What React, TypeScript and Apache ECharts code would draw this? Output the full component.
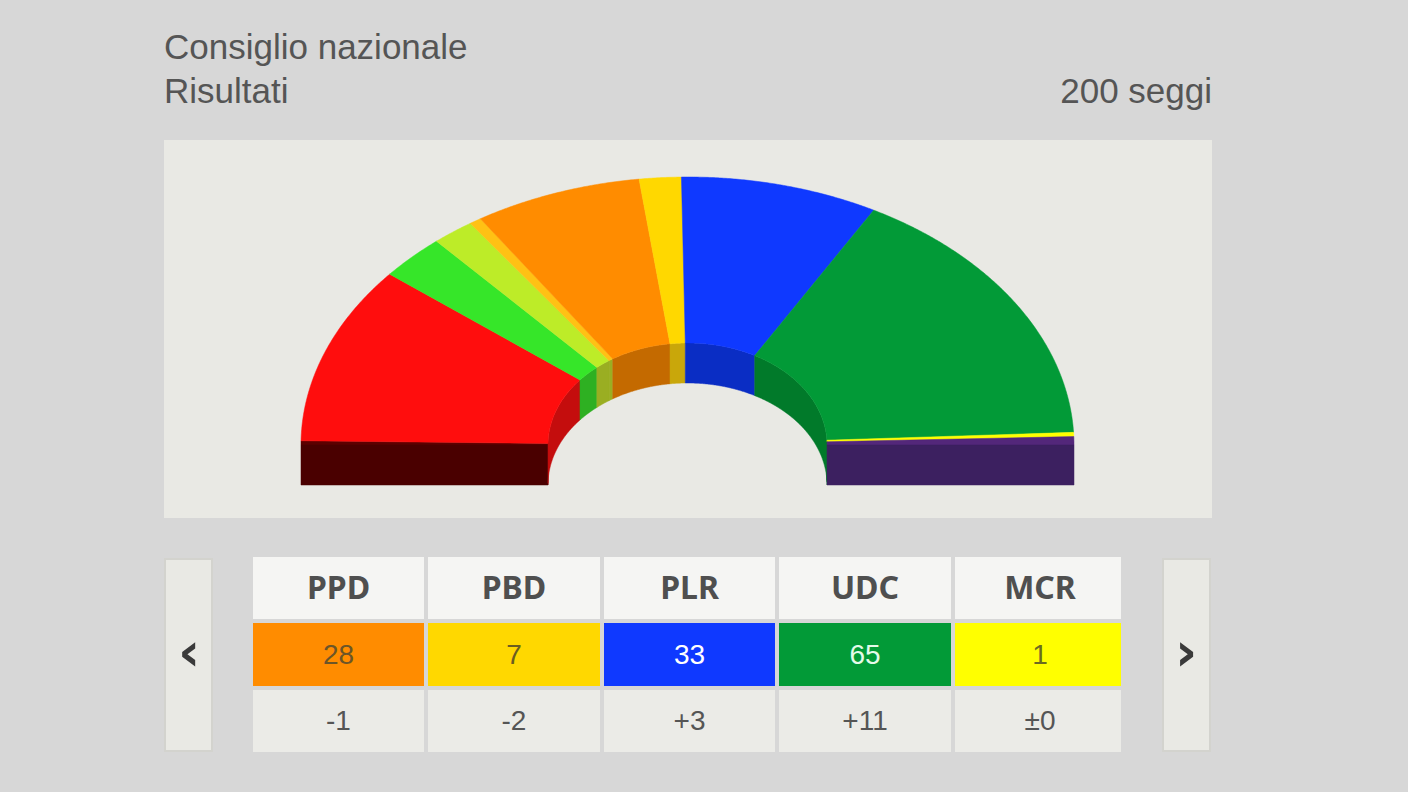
import React, { useEffect, useRef } from 'react';
import * as echarts from 'echarts';

// hemicycle, left to right
const seatParties = ['Sinistra', 'PS', 'Verdi', 'PVL', 'PEV', 'PPD', 'PBD', 'PLR', 'UDC', 'MCR', 'Lega'];
const seats = [1, 43, 11, 7, 2, 28, 7, 33, 65, 1, 2];
const topColors = ['#5c0000', '#ff0d0d', '#36e629', '#bdec28', '#ffc114', '#ff8c00', '#ffd800', '#0f39ff', '#029a37', '#ffff00', '#53277a'];
const wallColors = ['#8f0808', '#c40d0d', '#2eb022', '#9aae22', '#9aae22', '#c46a00', '#c9a70a', '#0a2dc4', '#017a2a', '#017a2a', '#017a2a'];
const frontColors = ['#4a0000', '', '', '', '', '', '', '', '', '', '#3c2060'];

// table under the chart
const tableParties = ['PPD', 'PBD', 'PLR', 'UDC', 'MCR'];
const tableSeats = ['28', '7', '33', '65', '1'];
const tableDiffs = ['-1', '-2', '+3', '+11', '±0'];
const tableFills = ['#ff8c00', '#ffd800', '#0f39ff', '#029a37', '#ffff00'];
const tableInk = ['#6b5528', '#6b5d20', '#ffffff', '#e4fbe9', '#6b6b20'];
const cellX = [253, 428, 604, 779, 955];
const cellW = [171, 172, 171, 172, 166];

const TOTAL = seats.reduce((a, b) => a + b, 0);
const INNER_X = 0.361;
const INNER_Y = 0.3806;
const DEPTH = 0.1493;

const seatRows = seats.map((n, i) => {
  const start = seats.slice(0, i).reduce((a, b) => a + b, 0);
  return [start, start + n, i];
});

const arc = (api: any, from: number, to: number, rx: number, ry: number, dy = 0) => {
  const pts: number[][] = [];
  const steps = Math.max(2, Math.ceil(to - from) * 3);
  for (let k = 0; k <= steps; k++) {
    const t = Math.PI - ((from + ((to - from) * k) / steps) / TOTAL) * Math.PI;
    pts.push(api.coord([Math.cos(t) * rx, Math.sin(t) * ry - dy]));
  }
  return pts;
};

const poly = (points: number[][], fill: string) => ({
  type: 'polygon',
  shape: { points },
  style: { fill, stroke: fill, lineWidth: 0.5 },
});

const renderSlice = (_: any, api: any) => {
  const from = api.value(0);
  const to = api.value(1);
  const idx = api.value(2);
  const children: any[] = [];
  // inner wall, then the top face
  const wallTop = arc(api, from, to, INNER_X, INNER_Y);
  const wallBottom = arc(api, from, to, INNER_X, INNER_Y, DEPTH);
  children.push(poly([...wallTop, ...wallBottom.reverse()], wallColors[idx]));
  const outer = arc(api, from, to, 1, 1);
  const inner = arc(api, from, to, INNER_X, INNER_Y);
  children.push(poly([...outer, ...inner.reverse()], topColors[idx]));
  // the two ends of the hemicycle have a front face
  if (frontColors[idx]) {
    const sign = idx === 0 ? -1 : 1;
    children.push(
      poly(
        [
          api.coord([sign, 0]),
          api.coord([sign * INNER_X, 0]),
          api.coord([sign * INNER_X, -DEPTH]),
          api.coord([sign, -DEPTH]),
        ],
        frontColors[idx]
      )
    );
  }
  return { type: 'group', children };
};

const label = (text: string, x: number, y: number, fontSize: number, fill: string, align = 'center', fontFamily = 'Liberation Sans', fontWeight: any = 'normal') => ({
  type: 'text',
  x,
  y,
  z: 5,
  style: { text, fontSize, fill, align, verticalAlign: 'middle', fontFamily, fontWeight },
});

const box = (x: number, y: number, width: number, height: number, fill: string, stroke = 'none', lineWidth = 0) => ({
  type: 'rect',
  z: 1,
  shape: { x, y, width, height },
  style: { fill, stroke, lineWidth },
});

export default function App() {
  const chartRef = useRef<HTMLDivElement>(null);

  useEffect(() => {
    if (!chartRef.current) return;
    document.body.style.margin = '0';
    const myChart = echarts.init(chartRef.current, null, { renderer: 'svg' });

    const cells: any[] = [];
    tableParties.forEach((name, i) => {
      const x = cellX[i];
      const w = cellW[i];
      // the last column's text sits a little right of its middle
      const mid = x + w / 2 + (i === 4 ? 2 : 0);
      cells.push(box(x, 557, w, 62, '#f5f5f3'));
      cells.push(box(x, 623, w, 63, tableFills[i]));
      cells.push(box(x, 690, w, 62, '#ebebe7'));
      cells.push(label(name, mid, 586, 32, '#4f4f4f', 'center', 'Noto Sans', 'bold'));
      cells.push(label(tableSeats[i], mid, 654, 28, tableInk[i]));
      cells.push(label(tableDiffs[i], mid, 720, 28, '#555555'));
    });

    const option: any = {
      animation: false,
      backgroundColor: '#d7d7d7',
      grid: { left: 301, top: 177, width: 773, height: 308 },
      xAxis: { type: 'value', min: -1, max: 1, show: false },
      yAxis: { type: 'value', min: -DEPTH, max: 1, show: false },
      tooltip: { show: false },
      graphic: {
        elements: [
          box(164, 140, 1048, 378, '#e9e9e4'),
          label('Consiglio nazionale', 164, 46, 35, '#555555', 'left'),
          label('Risultati', 164, 90, 35, '#555555', 'left'),
          label('200 seggi', 1212, 90, 35, '#555555', 'right'),
          box(165, 559, 47, 192, '#e9e9e4', '#d3d3ce', 2),
          box(1163, 559, 47, 192, '#e9e9e4', '#d3d3ce', 2),
          label('‹', 189, 651, 54, '#3a3a3a', 'center', 'DejaVu Sans', 'bold'),
          label('›', 1186, 651, 54, '#3a3a3a', 'center', 'DejaVu Sans', 'bold'),
          ...cells,
        ],
      },
      series: [
        {
          type: 'custom',
          name: 'Seggi',
          coordinateSystem: 'cartesian2d',
          data: seatRows,
          encode: { x: 0, y: 1 },
          clip: false,
          silent: true,
          renderItem: renderSlice,
        },
      ],
    };

    myChart.setOption(option);
    return () => {
      myChart.dispose();
    };
  }, []);

  return <div ref={chartRef} style={{ width: 1408, height: 792 }} />;
}
